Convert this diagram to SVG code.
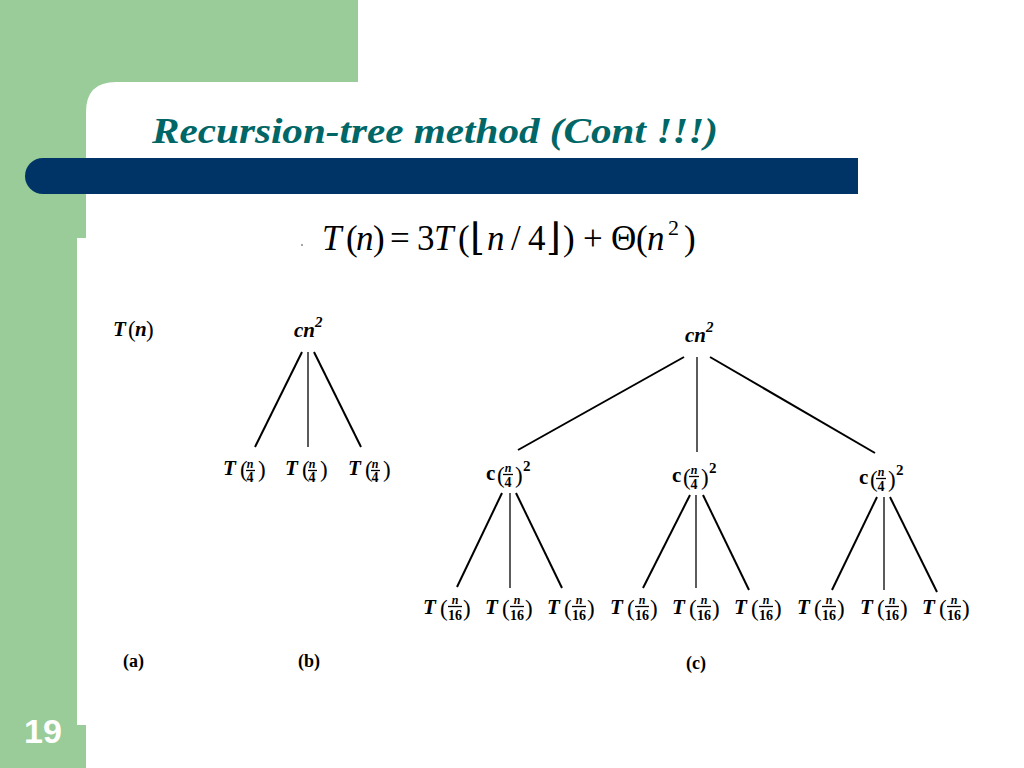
<svg xmlns="http://www.w3.org/2000/svg" width="1024" height="768" viewBox="0 0 1024 768">
<style>
.bg{fill:#99CC99}
.bar{fill:#003366}
.title{font-family:"Liberation Serif",serif;font-style:italic;font-weight:bold;font-size:36px;fill:#006666}
.f{font-family:"Liberation Serif",serif;font-size:35px;fill:#000}
.fi{font-style:italic}
.fs{font-size:22px}
.fl{font-family:"DejaVu Serif",serif;font-size:38px}
.v{font-family:"Liberation Serif",serif;font-style:italic;font-weight:bold;font-size:21px;fill:#000}
.c{font-family:"Liberation Serif",serif;font-weight:bold;font-size:21px;fill:#000}
.par{font-family:"Liberation Serif",serif;font-size:23px;fill:#000}
.num{font-family:"Liberation Serif",serif;font-style:italic;font-weight:bold;font-size:12px;fill:#000;text-anchor:middle}
.den{font-family:"Liberation Serif",serif;font-weight:bold;font-size:14px;fill:#000;text-anchor:middle}
.sup{font-family:"Liberation Serif",serif;font-weight:bold;font-size:15px;fill:#000}
.lab{font-family:"Liberation Serif",serif;font-weight:bold;font-size:18px;fill:#000}
.pg{font-family:"Liberation Sans",Arial,sans-serif;font-weight:bold;font-size:34px;fill:#fff}
.fb{stroke:#000;stroke-width:1.3}
.e{stroke:#000;stroke-width:2;fill:none}
.ev{stroke:#333;stroke-width:1.6;fill:none}
</style>
<rect width="1024" height="768" fill="#fff"/>
<path class="bg" d="M0,0 H358 V82 H116 Q86,82 86,112 V238 H77 V725 H86 V768 H0 Z"/>
<path class="bar" d="M43,158 H858 V194 H43 A18,18 0 0 1 43,158 Z"/>
<text class="title" x="152" y="143" textLength="566" lengthAdjust="spacingAndGlyphs">Recursion-tree method (Cont !!!)</text>
<text class="pg" x="24" y="743">19</text>

<circle cx="302" cy="245" r="1" fill="#888"/>
<g id="formula">
<text class="f" y="250"><tspan class="fi" x="322">T</tspan><tspan x="346">(</tspan><tspan class="fi" x="356">n</tspan><tspan x="373">)</tspan><tspan x="390">=</tspan><tspan x="417">3</tspan><tspan class="fi" x="434">T</tspan><tspan x="458">(</tspan><tspan class="fl" x="470">⌊</tspan><tspan class="fi" x="487">n</tspan><tspan x="511">/</tspan><tspan x="528">4</tspan><tspan class="fl" x="546">⌋</tspan><tspan x="563">)</tspan><tspan x="583">+</tspan><tspan x="611">Θ</tspan><tspan x="636">(</tspan><tspan class="fi" x="647">n</tspan><tspan class="fs" x="668" dy="-15">2</tspan><tspan x="684" dy="15">)</tspan></text>
</g>

<g id="connectors">
<line class="e" x1="302" y1="352" x2="255" y2="447"/>
<line class="ev" x1="308" y1="352" x2="308" y2="447"/>
<line class="e" x1="314" y1="352" x2="361" y2="447"/>
<line class="e" x1="684" y1="357" x2="518" y2="450"/>
<line class="ev" x1="697" y1="357" x2="697" y2="452"/>
<line class="e" x1="710" y1="357" x2="875" y2="453"/>
<line class="e" x1="502" y1="493" x2="457" y2="587"/>
<line class="ev" x1="510" y1="493" x2="510" y2="588"/>
<line class="e" x1="516" y1="493" x2="562" y2="588"/>
<line class="e" x1="690" y1="495" x2="643" y2="588"/>
<line class="ev" x1="696" y1="495" x2="696" y2="588"/>
<line class="e" x1="703" y1="495" x2="749" y2="590"/>
<line class="e" x1="877" y1="497" x2="832" y2="590"/>
<line class="ev" x1="884" y1="497" x2="884" y2="590"/>
<line class="e" x1="890" y1="497" x2="937" y2="592"/>
</g>

<g id="node-a"><text class="v" x="113" y="336">T</text><text class="par" x="128" y="337">(</text><text class="v" x="135" y="336">n</text><text class="par" x="146" y="337">)</text></g>

<g id="node-b-root"><text class="v" x="294" y="337">cn<tspan class="sup" dy="-10">2</tspan></text></g>
<g id="node-b-1"><text class="v" x="223" y="475">T</text><text class="par" x="240" y="477">(</text><text class="num" x="250" y="468">n</text><line class="fb" x1="246" y1="470.5" x2="255" y2="470.5"/><text class="den" x="250" y="482">4</text><text class="par" x="258" y="477">)</text></g>
<g id="node-b-2"><text class="v" x="285" y="475">T</text><text class="par" x="302" y="477">(</text><text class="num" x="312" y="468">n</text><line class="fb" x1="308" y1="470.5" x2="317" y2="470.5"/><text class="den" x="312" y="482">4</text><text class="par" x="320" y="477">)</text></g>
<g id="node-b-3"><text class="v" x="348" y="475">T</text><text class="par" x="365" y="477">(</text><text class="num" x="375" y="468">n</text><line class="fb" x1="371" y1="470.5" x2="380" y2="470.5"/><text class="den" x="375" y="482">4</text><text class="par" x="383" y="477">)</text></g>

<g id="node-c-root"><text class="v" x="685" y="342">cn<tspan class="sup" dy="-10">2</tspan></text></g>

<g id="node-c-1"><text class="c" x="486" y="480">c</text><text class="par" x="497" y="483">(</text><text class="num" x="508" y="472">n</text><line class="fb" x1="503" y1="474.5" x2="513" y2="474.5"/><text class="den" x="508" y="487">4</text><text class="par" x="515" y="483">)</text><text class="sup" x="523" y="471">2</text></g>
<g id="node-c-2"><text class="c" x="672" y="482">c</text><text class="par" x="683" y="485">(</text><text class="num" x="694" y="474">n</text><line class="fb" x1="689" y1="476.5" x2="699" y2="476.5"/><text class="den" x="694" y="489">4</text><text class="par" x="701" y="485">)</text><text class="sup" x="709" y="473">2</text></g>
<g id="node-c-3"><text class="c" x="859" y="484">c</text><text class="par" x="870" y="487">(</text><text class="num" x="881" y="476">n</text><line class="fb" x1="876" y1="478.5" x2="886" y2="478.5"/><text class="den" x="881" y="491">4</text><text class="par" x="888" y="487">)</text><text class="sup" x="896" y="475">2</text></g>

<g id="leaf-1"><text class="v" x="423" y="614">T</text><text class="par" x="440" y="616">(</text><text class="num" x="455" y="604">n</text><line class="fb" x1="448" y1="606.5" x2="462" y2="606.5"/><text class="den" x="455" y="620">16</text><text class="par" x="463" y="616">)</text></g>
<g id="leaf-2"><text class="v" x="485" y="614">T</text><text class="par" x="502" y="616">(</text><text class="num" x="517" y="604">n</text><line class="fb" x1="510" y1="606.5" x2="524" y2="606.5"/><text class="den" x="517" y="620">16</text><text class="par" x="525" y="616">)</text></g>
<g id="leaf-3"><text class="v" x="547" y="614">T</text><text class="par" x="564" y="616">(</text><text class="num" x="579" y="604">n</text><line class="fb" x1="572" y1="606.5" x2="586" y2="606.5"/><text class="den" x="579" y="620">16</text><text class="par" x="587" y="616">)</text></g>
<g id="leaf-4"><text class="v" x="610" y="614">T</text><text class="par" x="627" y="616">(</text><text class="num" x="642" y="604">n</text><line class="fb" x1="635" y1="606.5" x2="649" y2="606.5"/><text class="den" x="642" y="620">16</text><text class="par" x="650" y="616">)</text></g>
<g id="leaf-5"><text class="v" x="672" y="614">T</text><text class="par" x="689" y="616">(</text><text class="num" x="704" y="604">n</text><line class="fb" x1="697" y1="606.5" x2="711" y2="606.5"/><text class="den" x="704" y="620">16</text><text class="par" x="712" y="616">)</text></g>
<g id="leaf-6"><text class="v" x="734" y="614">T</text><text class="par" x="751" y="616">(</text><text class="num" x="766" y="604">n</text><line class="fb" x1="759" y1="606.5" x2="773" y2="606.5"/><text class="den" x="766" y="620">16</text><text class="par" x="774" y="616">)</text></g>
<g id="leaf-7"><text class="v" x="797" y="614">T</text><text class="par" x="814" y="616">(</text><text class="num" x="829" y="604">n</text><line class="fb" x1="822" y1="606.5" x2="836" y2="606.5"/><text class="den" x="829" y="620">16</text><text class="par" x="837" y="616">)</text></g>
<g id="leaf-8"><text class="v" x="860" y="614">T</text><text class="par" x="877" y="616">(</text><text class="num" x="892" y="604">n</text><line class="fb" x1="885" y1="606.5" x2="899" y2="606.5"/><text class="den" x="892" y="620">16</text><text class="par" x="900" y="616">)</text></g>
<g id="leaf-9"><text class="v" x="922" y="614">T</text><text class="par" x="939" y="616">(</text><text class="num" x="954" y="604">n</text><line class="fb" x1="947" y1="606.5" x2="961" y2="606.5"/><text class="den" x="954" y="620">16</text><text class="par" x="962" y="616">)</text></g>

<g id="captions">
<text class="lab" x="123" y="667">(a)</text>
<text class="lab" x="298" y="667">(b)</text>
<text class="lab" x="686" y="669">(c)</text>
</g>
</svg>
